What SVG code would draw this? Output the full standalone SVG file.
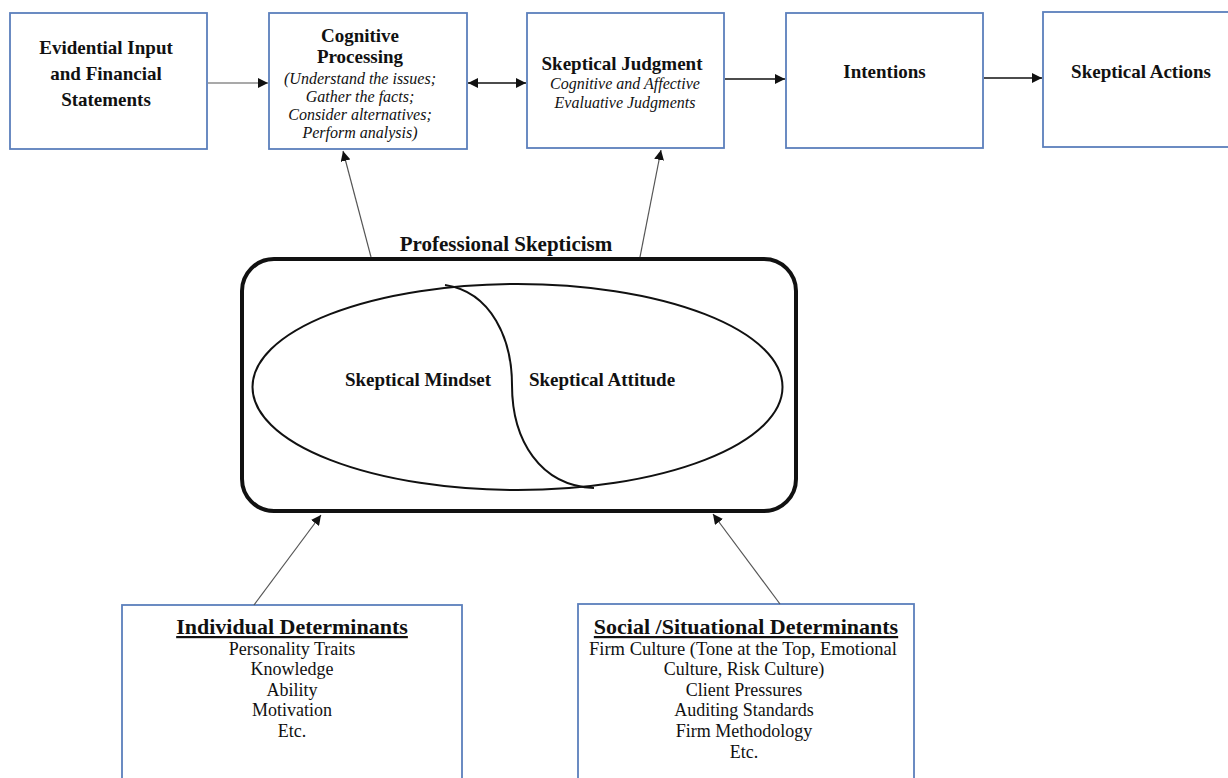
<svg xmlns="http://www.w3.org/2000/svg" width="1228" height="778" viewBox="0 0 1228 778">
<style>
.box{fill:#fff;stroke:#5b7fbc;stroke-width:1.8}
.t{font-family:"Liberation Serif","Times New Roman",serif;fill:#111;text-anchor:middle}
.b{font-weight:bold;font-size:19px}
.i{font-style:italic;font-size:16px}
.r{font-size:18px}
.h{font-weight:bold;font-size:22px;text-decoration:underline}
.c{fill:none;stroke:#111;stroke-width:1.4}
.cg{fill:none;stroke:#555;stroke-width:1.2}
</style>
<defs>
<marker id="ah" viewBox="0 0 10 10" refX="10" refY="5" markerWidth="10" markerHeight="10" markerUnits="userSpaceOnUse" orient="auto-start-reverse">
<path d="M0,0 L10,5 L0,10 z" fill="#111"/>
</marker>
</defs>
<rect width="1228" height="778" fill="#fff"/>

<g id="evidential">
<rect class="box" x="10" y="13" width="197" height="136"/>
<text class="t b" x="106" y="54">Evidential Input</text>
<text class="t b" x="106" y="80">and Financial</text>
<text class="t b" x="106" y="106">Statements</text>
</g>

<g id="cognitive">
<rect class="box" x="269" y="13" width="198" height="136"/>
<text class="t b" x="360" y="42">Cognitive</text>
<text class="t b" x="360" y="63">Processing</text>
<text class="t i" x="360" y="84">(Understand the issues;</text>
<text class="t i" x="360" y="102">Gather the facts;</text>
<text class="t i" x="360" y="120">Consider alternatives;</text>
<text class="t i" x="360" y="138">Perform analysis)</text>
</g>

<g id="judgment">
<rect class="box" x="527" y="13" width="197" height="135"/>
<text class="t b" x="622" y="70">Skeptical Judgment</text>
<text class="t i" x="625" y="89">Cognitive and Affective</text>
<text class="t i" x="625" y="108">Evaluative Judgments</text>
</g>

<g id="intentions">
<rect class="box" x="786" y="13" width="197" height="135"/>
<text class="t b" x="884.5" y="78">Intentions</text>
</g>

<g id="actions">
<rect class="box" x="1043" y="12" width="200" height="135"/>
<text class="t b" x="1141" y="78">Skeptical Actions</text>
</g>

<g id="professional-skepticism">
<text class="t" x="506" y="251" style="font-weight:bold;font-size:21px">Professional Skepticism</text>
<rect x="242" y="259" width="554" height="252" rx="32" ry="32" fill="none" stroke="#111" stroke-width="4"/>
<ellipse cx="517.5" cy="387" rx="265" ry="103" fill="none" stroke="#111" stroke-width="2"/>
<path d="M445 285 C492 292 512 340 512 385 C512 440 540 486 594 488" fill="none" stroke="#111" stroke-width="2"/>
<text class="t b" x="418" y="386">Skeptical Mindset</text>
<text class="t b" x="602" y="386">Skeptical Attitude</text>
</g>

<g id="individual">
<rect class="box" x="122" y="605" width="340" height="190"/>
<text class="t h" x="292" y="634">Individual Determinants</text>
<text class="t r" x="292" y="655">Personality Traits</text>
<text class="t r" x="292" y="675">Knowledge</text>
<text class="t r" x="292" y="696">Ability</text>
<text class="t r" x="292" y="716">Motivation</text>
<text class="t r" x="292" y="737">Etc.</text>
</g>

<g id="social">
<rect class="box" x="578" y="604" width="336" height="190"/>
<text class="t h" x="746" y="634">Social /Situational Determinants</text>
<text class="t r" x="743" y="655" style="font-size:18.5px">Firm Culture (Tone at the Top, Emotional</text>
<text class="t r" x="744" y="675">Culture, Risk Culture)</text>
<text class="t r" x="744" y="696">Client Pressures</text>
<text class="t r" x="744" y="716">Auditing Standards</text>
<text class="t r" x="744" y="737">Firm Methodology</text>
<text class="t r" x="744" y="758">Etc.</text>
</g>

<g id="connectors">
<line class="cg" x1="208" y1="83" x2="268" y2="83" marker-end="url(#ah)"/>
<line class="c" x1="468" y1="83" x2="526" y2="83" marker-start="url(#ah)" marker-end="url(#ah)"/>
<line class="c" x1="725" y1="79" x2="785" y2="79" marker-end="url(#ah)"/>
<line class="c" x1="984" y1="78" x2="1042" y2="78" marker-end="url(#ah)"/>
<line class="cg" x1="371" y1="257" x2="343" y2="151" marker-end="url(#ah)"/>
<line class="cg" x1="640" y1="257" x2="661" y2="150" marker-end="url(#ah)"/>
<line class="cg" x1="254" y1="605" x2="321" y2="515" marker-end="url(#ah)"/>
<line class="cg" x1="780" y1="604" x2="713" y2="514" marker-end="url(#ah)"/>
</g>
</svg>
